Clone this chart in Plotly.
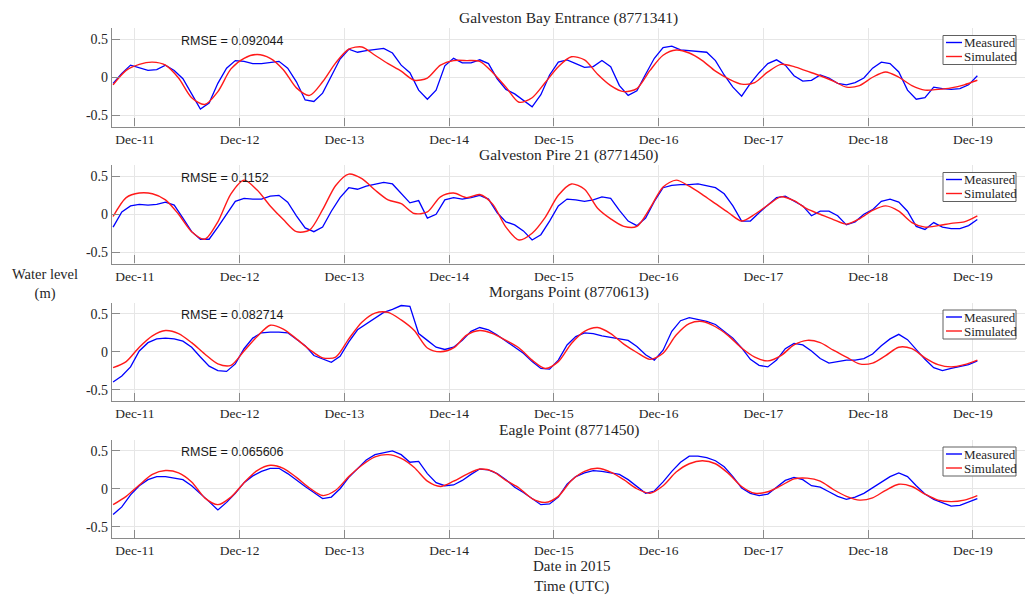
import pandas as pd
import plotly.graph_objects as go

W, H = 1029, 598

# Water level records, Dec 10 19:00 UTC onward (metres)
measured_time = pd.date_range("2015-12-10 19:00", periods=100, freq="2h")
simulated_time = pd.date_range("2015-12-10 19:00", periods=67, freq="3h")

station_titles = [
    "Galveston Bay Entrance (8771341)",
    "Galveston Pire 21 (8771450)",
    "Morgans Point (8770613)",
    "Eagle Point (8771450)",
]
rmse_labels = ["0.092044", "0.1152", "0.082714", "0.065606"]

tick_dates = ["2015-12-11", "2015-12-12", "2015-12-13", "2015-12-14", "2015-12-15",
              "2015-12-16", "2015-12-17", "2015-12-18", "2015-12-19"]
tick_labels = ["Dec-11", "Dec-12", "Dec-13", "Dec-14", "Dec-15",
               "Dec-16", "Dec-17", "Dec-18", "Dec-19"]
y_ticks = [-0.5, 0, 0.5]
y_tick_labels = ["-0.5", "0", "0.5"]

gbe_measured = [
    -0.08, 0.05, 0.16, 0.12, 0.09, 0.10, 0.16, 0.09, -0.02, -0.22,
    -0.42, -0.34, -0.08, 0.12, 0.22, 0.21, 0.18, 0.18, 0.20, 0.21,
    0.12, -0.06, -0.30, -0.32, -0.21, 0.02, 0.24, 0.37, 0.33, 0.35,
    0.36, 0.38, 0.32, 0.16, 0.06, -0.17, -0.29, -0.17, 0.15, 0.25,
    0.19, 0.19, 0.23, 0.18, -0.02, -0.16, -0.22, -0.30, -0.39, -0.23,
    0.03, 0.20, 0.23, 0.18, 0.13, 0.14, 0.22, 0.14, -0.11, -0.24,
    -0.18, 0.04, 0.25, 0.39, 0.41, 0.36, 0.35, 0.34, 0.33, 0.22,
    0.03, -0.13, -0.25, -0.08, 0.06, 0.18, 0.23, 0.16, 0.02, -0.05,
    -0.04, 0.03, -0.01, -0.08, -0.10, -0.07, -0.01, 0.12, 0.20, 0.18,
    0.07, -0.17, -0.29, -0.27, -0.13, -0.15, -0.16, -0.15, -0.10, 0.02,
]
gbe_simulated = [
    -0.10, 0.09, 0.17, 0.20, 0.16, -0.01, -0.27, -0.36, -0.19, 0.11,
    0.25, 0.30, 0.25, 0.10, -0.14, -0.24, -0.06, 0.19, 0.37, 0.40,
    0.29, 0.18, 0.08, -0.04, -0.01, 0.16, 0.22, 0.22, 0.21, 0.06,
    -0.13, -0.33, -0.27, -0.07, 0.14, 0.27, 0.23, 0.04, -0.11, -0.19,
    -0.15, 0.09, 0.29, 0.36, 0.32, 0.22, 0.08, -0.02, -0.09, -0.07,
    0.07, 0.17, 0.14, 0.08, 0.02, -0.05, -0.13, -0.11, 0.00, 0.07,
    0.00, -0.11, -0.17, -0.16, -0.14, -0.10, -0.04,
]

gp21_measured = [
    -0.17, 0.03, 0.11, 0.13, 0.12, 0.13, 0.16, 0.12, -0.05, -0.23,
    -0.33, -0.33, -0.17, 0.00, 0.17, 0.21, 0.20, 0.20, 0.24, 0.25,
    0.16, -0.02, -0.18, -0.23, -0.17, 0.04, 0.22, 0.35, 0.33, 0.37,
    0.40, 0.42, 0.40, 0.27, 0.15, 0.18, -0.05, 0.00, 0.19, 0.22,
    0.20, 0.22, 0.25, 0.20, 0.02, -0.10, -0.14, -0.22, -0.34, -0.27,
    -0.09, 0.11, 0.20, 0.19, 0.17, 0.19, 0.23, 0.21, 0.05, -0.09,
    -0.15, -0.05, 0.17, 0.35, 0.38, 0.39, 0.39, 0.40, 0.38, 0.35,
    0.27, 0.11, -0.09, -0.09, 0.02, 0.12, 0.22, 0.24, 0.18, 0.11,
    -0.02, 0.04, 0.04, -0.02, -0.14, -0.10, 0.00, 0.06, 0.17, 0.20,
    0.16, 0.04, -0.16, -0.20, -0.11, -0.17, -0.19, -0.19, -0.15, -0.07,
]
gp21_simulated = [
    -0.03, 0.22, 0.28, 0.27, 0.19, 0.00, -0.23, -0.33, -0.10, 0.27,
    0.45, 0.32, 0.11, -0.07, -0.23, -0.21, 0.06, 0.38, 0.53, 0.47,
    0.32, 0.19, 0.14, 0.01, 0.03, 0.23, 0.28, 0.22, 0.26, 0.13,
    -0.17, -0.34, -0.25, -0.04, 0.25, 0.40, 0.33, 0.08, -0.06, -0.16,
    -0.16, 0.08, 0.36, 0.45, 0.37, 0.26, 0.14, 0.02, -0.09, 0.00,
    0.12, 0.23, 0.18, 0.07, 0.00, -0.07, -0.13, -0.06, 0.05, 0.11,
    0.04, -0.11, -0.17, -0.15, -0.12, -0.10, -0.02,
]

mp_measured = [
    -0.40, -0.32, -0.20, 0.01, 0.12, 0.17, 0.18, 0.17, 0.14, 0.06,
    -0.07, -0.19, -0.25, -0.26, -0.16, 0.04, 0.18, 0.25, 0.26, 0.26,
    0.25, 0.17, 0.08, -0.05, -0.10, -0.14, -0.06, 0.13, 0.29, 0.37,
    0.44, 0.52, 0.56, 0.61, 0.60, 0.24, 0.15, 0.06, 0.03, 0.06,
    0.15, 0.27, 0.32, 0.29, 0.22, 0.14, 0.06, -0.02, -0.13, -0.22,
    -0.23, -0.11, 0.09, 0.20, 0.25, 0.24, 0.21, 0.19, 0.18, 0.15,
    0.07, -0.04, -0.11, 0.02, 0.27, 0.41, 0.45, 0.43, 0.40, 0.36,
    0.27, 0.18, 0.05, -0.10, -0.18, -0.20, -0.11, 0.04, 0.11, 0.09,
    0.01, -0.09, -0.15, -0.13, -0.11, -0.11, -0.09, -0.03, 0.08, 0.17,
    0.23, 0.16, 0.03, -0.10, -0.21, -0.25, -0.22, -0.20, -0.17, -0.12,
]
mp_simulated = [
    -0.21, -0.13, 0.06, 0.21, 0.28, 0.24, 0.12, -0.03, -0.16, -0.18,
    0.01, 0.20, 0.35, 0.30, 0.17, 0.03, -0.08, -0.07, 0.17, 0.39,
    0.51, 0.52, 0.42, 0.28, 0.05, 0.00, 0.05, 0.22, 0.28, 0.24,
    0.15, 0.05, -0.11, -0.22, -0.13, 0.11, 0.27, 0.32, 0.24, 0.10,
    -0.01, -0.10, -0.02, 0.22, 0.37, 0.40, 0.33, 0.21, 0.05, -0.07,
    -0.12, -0.05, 0.09, 0.15, 0.12, 0.02, -0.07, -0.16, -0.15, -0.05,
    0.06, 0.04, -0.08, -0.17, -0.20, -0.17, -0.11,
]

ep_measured = [
    -0.34, -0.24, -0.08, 0.04, 0.12, 0.16, 0.16, 0.14, 0.12, 0.04,
    -0.06, -0.17, -0.28, -0.18, -0.06, 0.08, 0.17, 0.23, 0.27, 0.27,
    0.20, 0.11, 0.03, -0.05, -0.13, -0.11, 0.00, 0.15, 0.27, 0.38,
    0.45, 0.48, 0.50, 0.45, 0.35, 0.36, 0.20, 0.08, 0.04, 0.05,
    0.11, 0.19, 0.26, 0.25, 0.20, 0.12, 0.02, -0.05, -0.13, -0.21,
    -0.20, -0.11, 0.06, 0.16, 0.21, 0.24, 0.23, 0.21, 0.19, 0.12,
    0.03, -0.06, -0.03, 0.09, 0.23, 0.35, 0.43, 0.43, 0.41, 0.37,
    0.29, 0.16, 0.01, -0.06, -0.09, -0.07, 0.02, 0.11, 0.15, 0.12,
    0.04, 0.02, -0.04, -0.10, -0.14, -0.11, -0.06, 0.01, 0.09, 0.16,
    0.21, 0.16, 0.04, -0.07, -0.14, -0.19, -0.23, -0.22, -0.18, -0.13,
]
ep_simulated = [
    -0.21, -0.10, 0.05, 0.19, 0.24, 0.21, 0.09, -0.12, -0.21, -0.11,
    0.08, 0.24, 0.31, 0.27, 0.15, 0.01, -0.09, -0.02, 0.16, 0.31,
    0.42, 0.45, 0.40, 0.28, 0.10, 0.03, 0.10, 0.19, 0.26, 0.23,
    0.11, 0.01, -0.13, -0.18, -0.10, 0.11, 0.23, 0.27, 0.22, 0.12,
    0.00, -0.06, 0.04, 0.22, 0.33, 0.37, 0.33, 0.20, 0.03, -0.06,
    -0.04, 0.04, 0.13, 0.14, 0.10, -0.01, -0.10, -0.15, -0.12, -0.02,
    0.06, 0.03, -0.07, -0.15, -0.17, -0.15, -0.09,
]

measured_series = [gbe_measured, gp21_measured, mp_measured, ep_measured]
simulated_series = [gbe_simulated, gp21_simulated, mp_simulated, ep_simulated]

# ---- styling / layout constants (pixels) ----
SERIF = "Liberation Serif, Times New Roman, serif"
SANS = "Liberation Sans, Arial, sans-serif"
TEXT = "#262626"
AXIS = "#8a8a8a"
GRID = "#e6e6e6"
BLUE = "#0000ff"
RED = "#ff1a1a"

PLOT_L, PLOT_R = 112, 1025
PANEL_TOPS = [28, 165, 302.5, 439.5]
PANEL_H = 98.5
X_RANGE = ["2015-12-10 18:45", "2015-12-19 11:55"]


def fx(px):
    return px / W


def fy(py):
    return 1 - py / H


fig = go.Figure()
shapes = []
annotations = []

for i, top in enumerate(PANEL_TOPS):
    n = "" if i == 0 else str(i + 1)
    xref, yref = "x" + n, "y" + n

    fig.add_trace(go.Scatter(
        x=measured_time, y=measured_series[i], name="Measured", mode="lines",
        line=dict(color=BLUE, width=1.3), xaxis=xref, yaxis=yref, showlegend=False,
    ))
    fig.add_trace(go.Scatter(
        x=simulated_time, y=simulated_series[i], name="Simulated", mode="lines",
        line=dict(color=RED, width=1.4, shape="spline", smoothing=0.8),
        xaxis=xref, yaxis=yref, showlegend=False,
    ))

    fig.layout["xaxis" + n] = dict(
        domain=[fx(PLOT_L), fx(PLOT_R)], anchor=yref, type="date", range=X_RANGE,
        tickvals=tick_dates, ticktext=tick_labels,
        ticks="inside", ticklen=8, tickwidth=1, tickcolor=AXIS,
        showline=True, linecolor=AXIS, linewidth=1.3, mirror=False,
        showgrid=True, gridcolor=GRID, gridwidth=1, zeroline=False,
        tickfont=dict(family=SERIF, size=13.5, color=TEXT), ticklabelstandoff=0,
    )
    fig.layout["yaxis" + n] = dict(
        domain=[fy(top + PANEL_H), fy(top)], anchor=xref, range=[-0.65, 0.65],
        tickvals=y_ticks, ticktext=y_tick_labels,
        ticks="inside", ticklen=8, tickwidth=1, tickcolor=AXIS,
        showline=True, linecolor=AXIS, linewidth=1.3, mirror=False,
        showgrid=True, gridcolor=GRID, gridwidth=1, zeroline=False,
        tickfont=dict(family=SERIF, size=14, color=TEXT),
    )

    # station title
    annotations.append(dict(
        xref="paper", yref="paper", x=fx(568.5), y=fy(top - 10),
        text=station_titles[i], showarrow=False, xanchor="center", yanchor="middle",
        font=dict(family=SERIF, size=15.5, color=TEXT),
    ))
    # RMSE label
    annotations.append(dict(
        xref=xref, yref=yref, x="2015-12-11 10:00", y=0.48,
        text="RMSE = " + rmse_labels[i], showarrow=False,
        xanchor="left", yanchor="middle",
        font=dict(family=SANS, size=12.5, color="#1a1a1a"),
    ))

    # boxed key in the upper-right corner of each panel
    shapes.append(dict(
        type="rect", xref="paper", yref="paper",
        x0=fx(943), x1=fx(1016), y0=fy(top + 36.5), y1=fy(top + 7.5),
        line=dict(color="#606060", width=1), fillcolor="white", layer="above",
    ))
    for j, (label, color) in enumerate([("Measured", BLUE), ("Simulated", RED)]):
        yy = top + 14.5 + 14 * j
        shapes.append(dict(
            type="line", xref="paper", yref="paper",
            x0=fx(946), x1=fx(962), y0=fy(yy), y1=fy(yy),
            line=dict(color=color, width=1.4), layer="above",
        ))
        annotations.append(dict(
            xref="paper", yref="paper", x=fx(962), y=fy(yy),
            text=label, showarrow=False, xanchor="left", yanchor="middle",
            font=dict(family=SERIF, size=13, color=TEXT),
        ))

annotations.append(dict(
    xref="paper", yref="paper", x=fx(45), y=fy(284),
    text="Water level<br>(m)", showarrow=False, xanchor="center", yanchor="middle",
    align="center", font=dict(family=SERIF, size=14.5, color=TEXT),
))
annotations.append(dict(
    xref="paper", yref="paper", x=fx(571), y=fy(576),
    text="Date in 2015<br>Time (UTC)", showarrow=False, xanchor="center",
    yanchor="middle", align="center", font=dict(family=SERIF, size=15, color=TEXT),
))

fig.update_layout(
    width=W, height=H, margin=dict(l=0, r=0, t=0, b=0),
    paper_bgcolor="white", plot_bgcolor="white", showlegend=False,
    shapes=shapes, annotations=annotations,
)

fig.write_html("out.html")
